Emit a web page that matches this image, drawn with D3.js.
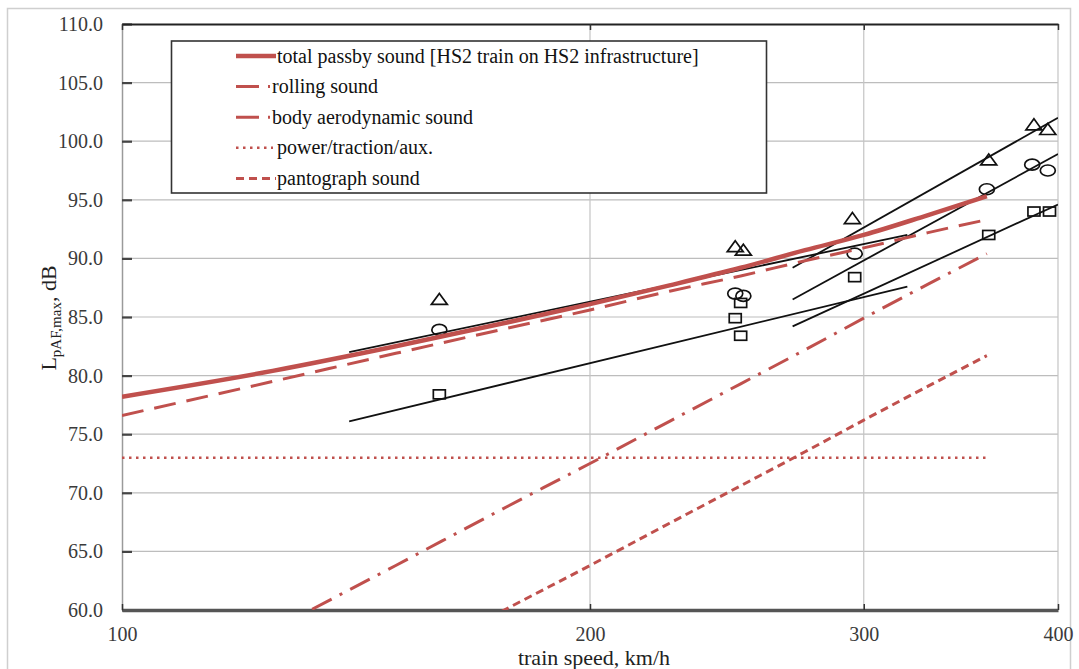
<!DOCTYPE html>
<html><head><meta charset="utf-8">
<script src="https://cdn.jsdelivr.net/npm/d3@7"></script>
<style>
html,body{margin:0;padding:0;background:#fff;}
svg{display:block;}
svg text{font-family:"Liberation Serif","Times New Roman",Tinos,"DejaVu Serif",serif !important;}
</style></head><body>
<svg id="chart" width="1079" height="669"></svg>
<script>
// Predicted component levels, L_pAF,max in dB, at each train speed (km/h)
const speeds           = [100, 125, 150, 175, 200, 225, 250, 275, 300, 330, 360];
const totalPassby      = [78.2, 80.4, 82.5, 84.4, 86.1, 87.7, 89.2, 90.7, 92.0, 93.7, 95.3];
const rollingSound     = [76.6, 79.5, 81.9, 83.9, 85.6, 87.2, 88.5, 89.8, 90.9, 92.2, 93.3];
const bodyAeroSound    = [51.5, 58.3, 63.8, 68.5, 72.5, 76.1, 79.3, 82.2, 84.9, 87.8, 90.4];
const powerTractionAux = [73.0, 73.0, 73.0, 73.0, 73.0, 73.0, 73.0, 73.0, 73.0, 73.0, 73.0];
const pantographSound  = [42.8, 49.5, 55.1, 59.8, 63.8, 67.4, 70.6, 73.5, 76.2, 79.1, 81.7];

// Measured pass-by levels (three measurement sets)
const triangleSpeeds = [160, 248, 251, 295, 361, 386, 394];
const triangleLevels = [86.5, 91.0, 90.7, 93.4, 98.4, 101.4, 101.0];
const circleSpeeds   = [160, 248, 251, 296, 360, 385, 394];
const circleLevels   = [83.9, 87.0, 86.8, 90.4, 95.9, 98.0, 97.5];
const squareSpeeds   = [160, 248, 250, 250, 296, 361, 386, 395];
const squareLevels   = [78.4, 84.9, 86.2, 83.4, 88.4, 92.0, 94.0, 94.0];

// Regression lines through the measurements
const lowFitSpeeds     = [140, 320];
const lowFitUpper      = [82.0, 92.0];
const lowFitLower      = [76.1, 87.6];
const highFitSpeeds    = [270, 400];
const highFitTriangle  = [89.2, 102.0];
const highFitCircle    = [86.5, 98.9];
const highFitSquare    = [84.2, 94.6];

// Axes
const speedTicks = [100, 200, 300, 400];
const levelTicks = [60, 65, 70, 75, 80, 85, 90, 95, 100, 105, 110];

const legendLabels = [
  "total passby sound [HS2 train on HS2 infrastructure]",
  "rolling sound",
  "body aerodynamic sound",
  "power/traction/aux.",
  "pantograph sound"
];

const RED = "#c0504d";
const svg = d3.select("#chart");
const plotLeft = 122, plotRight = 1058, plotTop = 24, plotBottom = 610;

const x = d3.scaleLog().domain([100, 400]).range([plotLeft, plotRight]);
const y = d3.scaleLinear().domain([60, 110]).range([plotBottom, plotTop]);

// outer frame
svg.append("rect").attr("x", 7.5).attr("y", 8.5).attr("width", 1063).attr("height", 680)
  .attr("fill", "none").attr("stroke", "#cfcfcf").attr("stroke-width", 1.5);

svg.append("defs").append("clipPath").attr("id", "plotClip")
  .append("rect").attr("x", plotLeft).attr("y", plotTop)
  .attr("width", plotRight - plotLeft).attr("height", plotBottom - plotTop);

// gridlines
const grid = svg.append("g");
grid.selectAll("line.h").data(levelTicks.slice(1, -1)).join("line").attr("class", "h")
  .attr("x1", plotLeft).attr("x2", plotRight).attr("y1", d => y(d)).attr("y2", d => y(d))
  .attr("stroke", "#bdbdbd").attr("stroke-width", 1.2);
grid.selectAll("line.v").data(speedTicks.slice(1)).join("line").attr("class", "v")
  .attr("x1", d => x(d)).attr("x2", d => x(d)).attr("y1", plotTop).attr("y2", plotBottom)
  .attr("stroke", "#c4c4c4").attr("stroke-width", 1.2);

// y axis
const yAxis = svg.append("g").attr("transform", `translate(${plotLeft},0)`)
  .call(d3.axisLeft(y).tickValues(levelTicks).tickFormat(d3.format(".1f"))
    .tickSizeInner(-10).tickSizeOuter(0).tickPadding(19));
yAxis.select(".domain").attr("stroke", "#9a9a9a").attr("stroke-width", 1.5);
yAxis.selectAll(".tick line").attr("stroke", "#444").attr("stroke-width", 2.2);
yAxis.selectAll(".tick text").attr("font-size", 20).attr("fill", "#3a3a3a");

// x axis
const xAxis = svg.append("g").attr("transform", `translate(0,${plotBottom})`)
  .call(d3.axisBottom(x).tickValues(speedTicks).tickFormat(d3.format("d"))
    .tickSizeInner(-6).tickSizeOuter(0).tickPadding(17));
xAxis.select(".domain").attr("stroke", "#555").attr("stroke-width", 3.5);
xAxis.selectAll(".tick line").attr("stroke", "#333").attr("stroke-width", 1.5);
xAxis.selectAll(".tick text").attr("font-size", 20).attr("fill", "#3a3a3a");

// top border
const topAxis = svg.append("g").attr("transform", `translate(0,${plotTop})`)
  .call(d3.axisTop(x).tickValues(speedTicks).tickFormat("").tickSizeInner(-6).tickSizeOuter(0));
topAxis.select(".domain").attr("stroke", "#222").attr("stroke-width", 2.2);
topAxis.selectAll(".tick line").attr("stroke", "#333").attr("stroke-width", 1.5);

// axis titles
svg.append("text").attr("x", 594).attr("y", 665).attr("text-anchor", "middle")
  .attr("font-size", 22).attr("fill", "#222").text("train speed, km/h");

const yTitle = svg.append("text").attr("transform", "translate(56,318) rotate(-90)")
  .attr("text-anchor", "middle").attr("font-size", 22).attr("fill", "#222");
yTitle.append("tspan").text("L");
yTitle.append("tspan").attr("font-size", 15).attr("dy", 5).text("pAF,max");
yTitle.append("tspan").attr("dy", -5).text(", dB");

// markers (hollow)
const markers = svg.append("g").attr("fill", "none").attr("stroke", "#111").attr("stroke-width", 1.7);
const triPath = "M0,-6 L8,5 L-8,5 Z";
markers.selectAll("path.tri").data(d3.zip(triangleSpeeds, triangleLevels)).join("path")
  .attr("class", "tri")
  .attr("d", triPath).attr("transform", d => `translate(${x(d[0])},${y(d[1])})`);
markers.selectAll("ellipse").data(d3.zip(circleSpeeds, circleLevels)).join("ellipse")
  .attr("cx", d => x(d[0])).attr("cy", d => y(d[1])).attr("rx", 7.5).attr("ry", 5.5);
markers.selectAll("rect").data(d3.zip(squareSpeeds, squareLevels)).join("rect")
  .attr("x", d => x(d[0]) - 6).attr("y", d => y(d[1]) - 4.5).attr("width", 12).attr("height", 9);

// regression lines
const line = d3.line().x(d => x(d[0])).y(d => y(d[1]));
const fits = [
  [lowFitSpeeds, lowFitUpper], [lowFitSpeeds, lowFitLower],
  [highFitSpeeds, highFitTriangle], [highFitSpeeds, highFitCircle], [highFitSpeeds, highFitSquare]
];
svg.append("g").attr("clip-path", "url(#plotClip)").selectAll("path").data(fits).join("path")
  .attr("d", f => line(d3.zip(f[0], f[1])))
  .attr("fill", "none").attr("stroke", "#111").attr("stroke-width", 1.8);

// predicted components
const curve = d3.line().curve(d3.curveMonotoneX).x(d => x(d[0])).y(d => y(d[1]));
const styles = [
  { values: totalPassby,      width: 4.5, dash: null },
  { values: rollingSound,     width: 3,   dash: "22 11" },
  { values: bodyAeroSound,    width: 3,   dash: "22 9 3 9" },
  { values: powerTractionAux, width: 2.5, dash: "2.5 4.5" },
  { values: pantographSound,  width: 3,   dash: "8 5" }
];
const comp = svg.append("g").attr("clip-path", "url(#plotClip)");
styles.slice().reverse().forEach(s => {
  comp.append("path").attr("d", curve(d3.zip(speeds, s.values)))
    .attr("fill", "none").attr("stroke", RED).attr("stroke-width", s.width)
    .attr("stroke-dasharray", s.dash);
});

// legend
const lg = svg.append("g");
lg.append("rect").attr("x", 171.5).attr("y", 41).attr("width", 595).attr("height", 152)
  .attr("fill", "#fff").attr("stroke", "#333").attr("stroke-width", 1.6);
const sampleDash = [null, "23 9 2 40", "23 9 2 40", "2.5 4.5", "8 5"];
const sampleW = [4.5, 3, 3, 2.5, 3];
legendLabels.forEach((lab, i) => {
  const ry = 56 + i * 30.6;
  lg.append("line").attr("x1", 236).attr("x2", i === 3 ? 273 : 276).attr("y1", ry).attr("y2", ry)
    .attr("stroke", RED).attr("stroke-width", sampleW[i]).attr("stroke-dasharray", sampleDash[i]);
  lg.append("text").attr("x", i === 1 || i === 2 ? 272 : 277).attr("y", ry).attr("dy", "0.33em")
    .attr("font-size", 20).attr("fill", "#111").text(lab);
});
</script>
</body></html>
